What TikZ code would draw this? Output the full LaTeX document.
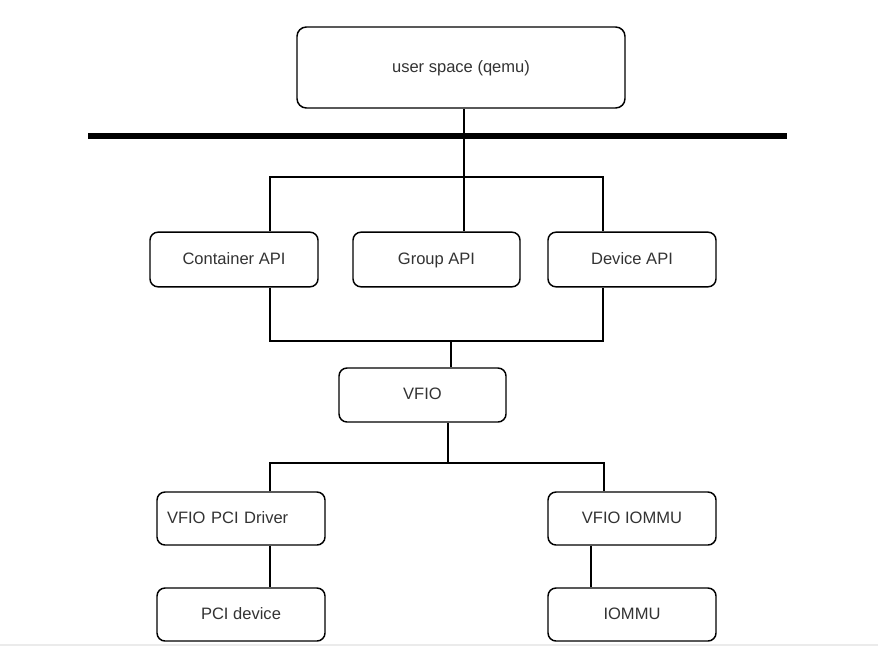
\documentclass[tikz,border=0pt]{standalone}
\usepackage{fontspec}
\setmainfont{Liberation Sans}
\definecolor{txt}{HTML}{333333}
\begin{document}
\begin{tikzpicture}[x=0.75pt,y=-0.75pt,
  box/.style={draw=black, line width=1.1pt, rounded corners=6pt, fill=white,
    minimum width=126pt, minimum height=41pt, inner sep=0pt,
    text height=8.9pt, text depth=2pt,
    font=\fontsize{12.4}{14}\selectfont, text=txt},
  conn/.style={draw=black, line width=1.9pt},
  busline/.style={draw=black, line width=3.9pt}]
\useasboundingbox (0,0) rectangle (878,646);
% nodes
\node[box, minimum width=246pt, minimum height=60.75pt, rounded corners=7pt] (u) at (461,67.5) {user space (qemu)};
\node[box] (container) at (234,259.5) {Container API};
\node[box, minimum width=125.25pt] (group) at (436.5,259.5) {Group API};
\node[box] (device) at (632,259.5) {Device API};
\node[box, minimum width=125.25pt, minimum height=40.5pt] (vfio) at (422.5,395) {VFIO};
\node[box, minimum height=39.75pt, text width=111pt, align=left, inner xsep=7.5pt] (driver) at (241,518.5) {VFIO PCI Driver};
\node[box, minimum height=39.75pt] (viommu) at (632,518.5) {VFIO IOMMU};
\node[box, minimum height=39.75pt] (pci) at (241,614.5) {PCI device};
\node[box, minimum height=39.75pt] (iommu) at (632,614.5) {IOMMU};
% helper coordinates
\coordinate (busL) at (88,136);
\coordinate (busR) at (787,136);
\coordinate (cL) at (270,0);
\coordinate (cG) at (464,0);
\coordinate (cR) at (603,0);
\coordinate (cV1) at (451,0);
\coordinate (cV2) at (448,0);
\coordinate (dR) at (604,0);
\coordinate (iR) at (591,0);
\coordinate (topbus) at (0,177);
\coordinate (midbus) at (0,341);
\coordinate (lowbus) at (0,463);
\coordinate (edgeL) at (0,645);
\coordinate (edgeR) at (878,645);
% faint bottom edge
\draw[black!8, line width=0.9pt] (edgeL) -- (edgeR);
% connectors
\draw[conn] (u.south -| cG) -- (group.north -| cG);
\draw[busline] (busL) -- (busR);
\draw[conn] (container.north -| cL) -- (cL |- topbus) -- (cR |- topbus) -- (device.north -| cR);
\draw[conn] (container.south -| cL) -- (cL |- midbus) -- (cR |- midbus) -- (device.south -| cR);
\draw[conn] (cV1 |- midbus) -- (vfio.north -| cV1);
\draw[conn] (vfio.south -| cV2) -- (cV2 |- lowbus);
\draw[conn] (driver.north -| cL) -- (cL |- lowbus) -- (dR |- lowbus) -- (viommu.north -| dR);
\draw[conn] (driver.south -| cL) -- (pci.north -| cL);
\draw[conn] (viommu.south -| iR) -- (iommu.north -| iR);
\end{tikzpicture}
\end{document}
